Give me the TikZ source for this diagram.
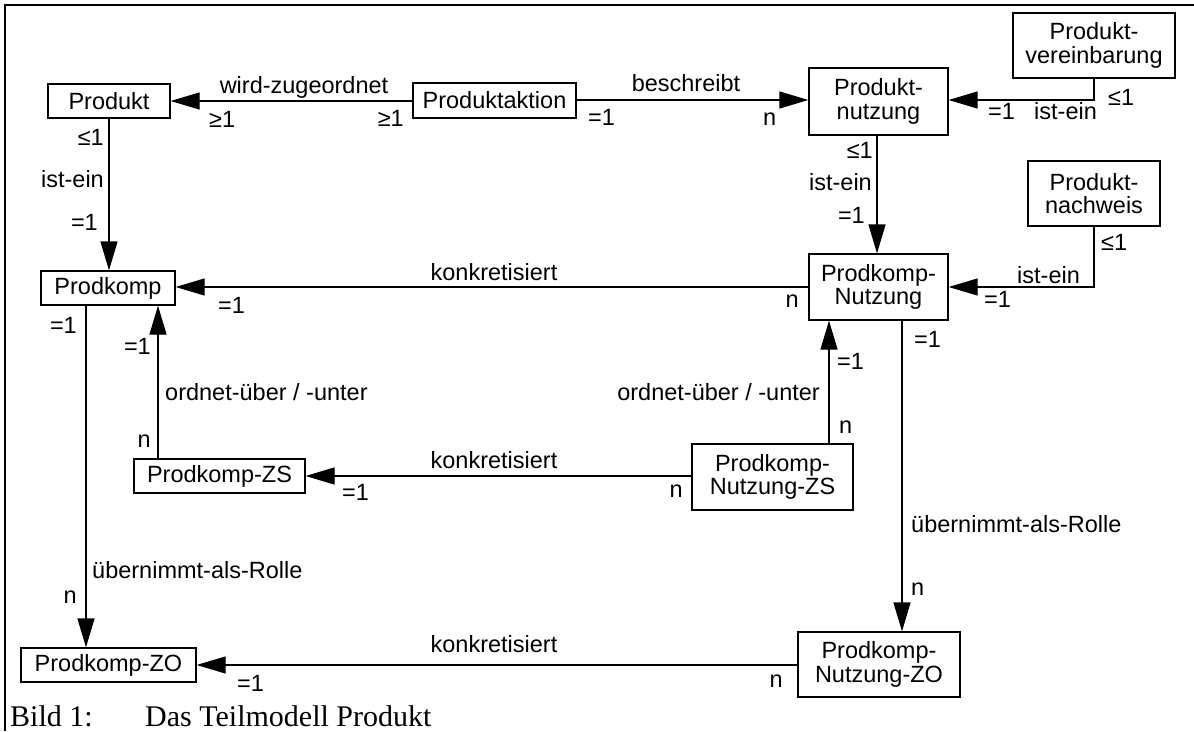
\documentclass[tikz,border=0pt]{standalone}
\usepackage{fontspec}
\usetikzlibrary{arrows.meta}
\newfontfamily\diagfont{Liberation Sans}
\newfontfamily\capfont{Liberation Serif}
\tikzset{
  every picture/.style={x=1pt,y=-1pt},
  box/.style={draw, line width=1.3pt, inner sep=0pt, align=center,
    font=\diagfont\fontsize{23.5}{23.5}\selectfont},
  lbl/.style={inner sep=0pt, font=\diagfont\fontsize{23.5}{23.5}\selectfont},
  arr/.style={line width=1.3pt, -{Triangle[length=29pt,width=17pt]}},
  ln/.style={line width=1.3pt},
}
\begin{document}
\begin{tikzpicture}
\useasboundingbox (0,0) rectangle (1194,731);
% frame
\draw[line width=1.5pt] (5,731) -- (5,5) -- (1194,5);

% nodes
\node[box, minimum width=122pt, minimum height=34pt] (prod) at (109,101) {Produkt};
\node[box, minimum width=163pt, minimum height=35pt] (akt) at (494.5,100.5) {Produktaktion};
\node[box, minimum width=139pt, minimum height=67pt] (pnutz) at (878.5,101.5) {Produkt-\\nutzung};
\node[box, minimum width=162pt, minimum height=65pt] (pver) at (1094,45.5) {Produkt-\\vereinbarung};
\node[box, minimum width=132pt, minimum height=65pt] (pnach) at (1094,193.5) {Produkt-\\nachweis};
\node[box, minimum width=134pt, minimum height=34pt] (pk) at (108,288) {Prodkomp};
\node[box, minimum width=139pt, minimum height=66pt] (pkn) at (878.5,287) {Prodkomp-\\Nutzung};
\node[box, minimum width=171pt, minimum height=34pt] (pkzs) at (219.5,476) {Prodkomp-ZS};
\node[box, minimum width=161pt, minimum height=66pt] (pknzs) at (772.5,477) {Prodkomp-\\Nutzung-ZS};
\node[box, minimum width=175pt, minimum height=34pt] (pkzo) at (108.5,665) {Prodkomp-ZO};
\node[box, minimum width=162pt, minimum height=65pt] (pknzo) at (879,664.5) {Prodkomp-\\Nutzung-ZO};

% connectors
\draw[arr] (akt.west |- 0,101) -- (prod.east |- 0,101);
\draw[arr] (akt.east |- 0,100) -- (pnutz.west |- 0,100);
\draw[arr] (pver.south) -- (pver.south |- 0,100) -- (pnutz.east |- 0,100);
\draw[arr] (877,0 |- pnutz.south) -- (877,0 |- pkn.north);
\draw[arr] (pnach.south) -- (pnach.south |- 0,287) -- (pkn.east |- 0,287);
\draw[arr] (prod.south -| 109,0) -- (pk.north -| 109,0);
\draw[arr] (pkn.west |- 0,287) -- (pk.east |- 0,287);
\draw[arr] (86,0 |- pk.south) -- (86,0 |- pkzo.north);
\draw[arr] (158,0 |- pkzs.north) -- (158,0 |- pk.south);
\draw[arr] (pknzs.west |- 0,476) -- (pkzs.east |- 0,476);
\draw[arr] (829,0 |- pknzs.north) -- (829,0 |- pkn.south);
\draw[arr] (902,0 |- pkn.south) -- (902,0 |- pknzo.north);
\draw[arr] (pknzo.west |- 0,665) -- (pkzo.east |- 0,665);

% labels
\node[lbl, anchor=base] (l1) at (304,93) {wird-zugeordnet};
\node[lbl, anchor=base west] (l2) at (209,127) {≥1};
\node[lbl, anchor=base east] (l3) at (404,126) {≥1};
\node[lbl, anchor=base] (l4) at (686,91) {beschreibt};
\node[lbl, anchor=base west] (l5) at (588,125) {=1};
\node[lbl, anchor=base west] (l6) at (763,125) {n};
\node[lbl, anchor=base west] (l7) at (988,119) {=1};
\node[lbl, anchor=base west] (l8) at (1034,119) {ist-ein};
\node[lbl, anchor=base west] (l9) at (1108,105) {≤1};
\node[lbl, anchor=base east] (l10) at (104,145) {≤1};
\node[lbl, anchor=base east] (l11) at (104,187) {ist-ein};
\node[lbl, anchor=base east] (l12) at (98,230) {=1};
\node[lbl, anchor=base east] (l13) at (873,158) {≤1};
\node[lbl, anchor=base east] (l14) at (872,190) {ist-ein};
\node[lbl, anchor=base east] (l15) at (865,223) {=1};
\node[lbl, anchor=base west] (l16) at (1101,250) {≤1};
\node[lbl, anchor=base west] (l17) at (1017,283) {ist-ein};
\node[lbl, anchor=base west] (l18) at (984,307) {=1};
\node[lbl, anchor=base] (l19) at (494,280) {konkretisiert};
\node[lbl, anchor=base west] (l20) at (218,313) {=1};
\node[lbl, anchor=base east] (l21) at (799,307) {n};
\node[lbl, anchor=base east] (l22) at (77,333) {=1};
\node[lbl, anchor=base east] (l23) at (151,354) {=1};
\node[lbl, anchor=base west] (l24) at (165,400) {ordnet-über / -unter};
\node[lbl, anchor=base east] (l25) at (151,447) {n};
\node[lbl, anchor=base west] (l26) at (837,369) {=1};
\node[lbl, anchor=base east] (l27) at (820,400) {ordnet-über / -unter};
\node[lbl, anchor=base west] (l28) at (839,433) {n};
\node[lbl, anchor=base] (l29) at (494,468) {konkretisiert};
\node[lbl, anchor=base west] (l30) at (342,500) {=1};
\node[lbl, anchor=base east] (l31) at (683,497) {n};
\node[lbl, anchor=base west] (l32) at (914,347) {=1};
\node[lbl, anchor=base west] (l33) at (911,532) {übernimmt-als-Rolle};
\node[lbl, anchor=base west] (l34) at (911,595) {n};
\node[lbl, anchor=base west] (l35) at (92,578) {übernimmt-als-Rolle};
\node[lbl, anchor=base east] (l36) at (77,603) {n};
\node[lbl, anchor=base] (l37) at (494,652) {konkretisiert};
\node[lbl, anchor=base west] (l38) at (237,691) {=1};
\node[lbl, anchor=base east] (l39) at (783,687) {n};

% caption
\node[inner sep=0pt, anchor=base west, font=\capfont\fontsize{30}{30}\selectfont] (cap) at (10,726) {\makebox[135pt][l]{Bild 1:}Das Teilmodell Produkt};
\end{tikzpicture}
\end{document}
